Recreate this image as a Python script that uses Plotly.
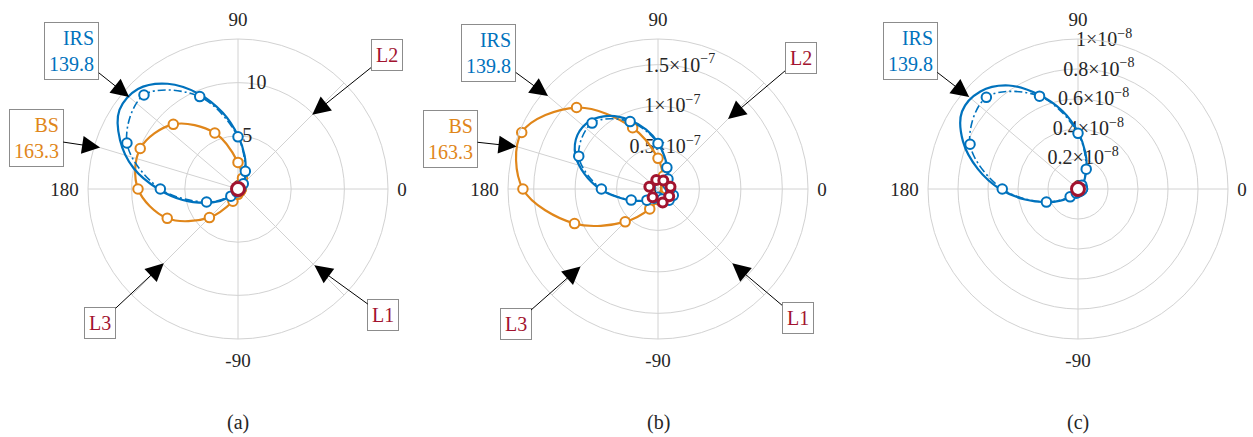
import math
import plotly.graph_objects as go

W, H = 1253, 437
FONT = "'Liberation Serif', 'DejaVu Serif', serif"
BLUE = "#0072BD"
ORANGE = "#E0861A"
RED = "#A2142F"
GRID = "#d2d2d2"
TXT = "#262626"

# Sampling angles (degrees)
ANG16 = [0, 22.5, 45, 67.5, 90, 112.5, 135, 157.5, 180, 202.5, 225, 247.5, 270, 292.5, 315, 337.5]
ANG32 = [0, 11.25, 22.5, 33.75, 45, 56.25, 67.5, 78.75, 90, 101.25, 112.5, 123.75, 135, 146.25,
         157.5, 168.75, 180, 191.25, 202.5, 213.75, 225, 236.25, 247.5, 258.75, 270, 281.25,
         292.5, 303.75, 315, 326.25, 337.5, 348.75]

# Steering directions
IRS_DIR = 139.8
BS_DIR = 163.3
USER_DIR = {"L1": -45, "L2": 45, "L3": -135}

# (a) beam patterns
a_irs_theory = [0.2, 0.22, 0.3, 0.45, 0.75, 1.2, 1.9, 3.2, 5.0, 7.3, 9.7, 11.9, 13.3, 13.4, 12.0, 10.0,
                7.5, 5.3, 3.4, 2.0, 1.0, 0.6, 0.35, 0.25, 0.2, 0.18, 0.15, 0.15, 0.15, 0.15, 0.18, 0.2]
a_irs_est = [0.2, 0.3, 0.7, 1.8, 4.9, 9.4, 12.5, 11.3, 7.3, 3.2, 0.95, 0.3, 0.15, 0.1, 0.1, 0.15]
a_bs = [0.3, 0.35, 0.6, 1.1, 2.5, 5.7, 8.6, 9.95, 9.4, 7.2, 3.8, 1.25, 0.5, 0.3, 0.3, 0.3]

# (b) beam patterns, in units of 1e-7
SCALE_B = 1e-7
b_irs_theory = [0.17, 0.15, 0.14, 0.15, 0.18, 0.22, 0.29, 0.4, 0.56, 0.73, 0.9, 1.06, 1.16, 1.17, 1.08, 0.9,
                0.7, 0.5, 0.36, 0.26, 0.2, 0.15, 0.12, 0.1, 0.1, 0.11, 0.13, 0.16, 0.19, 0.21, 0.21, 0.19]
b_irs_est = [0.15, 0.13, 0.17, 0.28, 0.55, 0.88, 1.125, 1.035, 0.683, 0.35, 0.19, 0.12, 0.1, 0.13, 0.19, 0.2]
b_bs = [0.1, 0.1, 0.12, 0.17, 0.37, 0.8, 1.39, 1.78, 1.63, 1.09, 0.56, 0.26, 0.13, 0.1, 0.1, 0.1]
b_users_theta = [165, 101, 58, 10, -33, -71, -123]
b_users_r = [0.108, 0.11, 0.121, 0.153, 0.161, 0.173, 0.119]

# (c) beam patterns, in units of 1e-8
SCALE_C = 1e-8
c_irs_theory = [0.03, 0.03, 0.03, 0.035, 0.05, 0.08, 0.15, 0.25, 0.38, 0.53, 0.68, 0.83, 0.92, 0.93, 0.83,
                0.68, 0.52, 0.36, 0.23, 0.14, 0.08, 0.05, 0.03, 0.02, 0.02, 0.02, 0.02, 0.02, 0.02, 0.02,
                0.025, 0.03]
c_irs_est = [0.03, 0.03, 0.036, 0.143, 0.371, 0.67, 0.864, 0.779, 0.505, 0.228, 0.074, 0.03, 0.02, 0.02,
             0.02, 0.025]

# radial axis limits and ticks
a_rmax, a_rticks = 14.1, [5, 10]
a_rlabels = ["5", "10"]
b_rmax, b_rticks = 1.81, [0.5, 1.0, 1.5]
b_rlabels = ["0.5×10<sup>−7</sup>", "1×10<sup>−7</sup>", "1.5×10<sup>−7</sup>"]
c_rmax, c_rticks = 1.0, [0.2, 0.4, 0.6, 0.8, 1.0]
c_rlabels = ["0.2×10<sup>−8</sup>", "0.4×10<sup>−8</sup>", "0.6×10<sup>−8</sup>",
             "0.8×10<sup>−8</sup>", "1×10<sup>−8</sup>"]
RLABEL_ANGLE = 80

# panel geometry (pixels)
R_PX = 150
CENTERS = [(238, 189), (658, 189), (1078, 189)]


def closed(seq):
    return list(seq) + [seq[0]]


def scaled(seq, s):
    return [v * s for v in seq]


def domain(cx, cy):
    return dict(x=[(cx - R_PX) / W, (cx + R_PX) / W],
                y=[(H - cy - R_PX) / H, (H - cy + R_PX) / H])


def tip(cx, cy, theta, frac):
    t = math.radians(theta)
    px = cx + frac * R_PX * math.cos(t)
    py = cy - frac * R_PX * math.sin(t)
    return px, py


fig = go.Figure()


def add_rays(sub, angles, rmax):
    # thin radial guide lines towards the users and the steering directions
    for a in angles:
        fig.add_trace(go.Scatterpolar(
            r=[0, rmax], theta=[a, a], mode="lines", subplot=sub,
            line=dict(color=GRID, width=1), showlegend=False, hoverinfo="skip"))


def add_rlabels(sub, ticks, labels, s):
    fig.add_trace(go.Scatterpolar(
        r=[0] + [v * s for v in ticks], theta=[RLABEL_ANGLE] * (len(ticks) + 1),
        mode="text", text=["0"] + labels, textposition="middle center",
        textfont=dict(family=FONT, size=20, color=TXT), subplot=sub,
        showlegend=False, hoverinfo="skip"))


MARK = dict(symbol="circle", size=9.5, color="white")


def add_solid(sub, r, theta, color, s, markers=False):
    fig.add_trace(go.Scatterpolar(
        r=closed(scaled(r, s)), theta=closed(theta), subplot=sub,
        mode="lines+markers" if markers else "lines",
        line=dict(color=color, width=2.2, shape="spline", smoothing=1.0),
        marker=dict(MARK, line=dict(color=color, width=2)),
        showlegend=False))


def add_dashdot(sub, r, theta, color, s):
    fig.add_trace(go.Scatterpolar(
        r=closed(scaled(r, s)), theta=closed(theta), subplot=sub,
        mode="lines+markers",
        line=dict(color=color, width=1.6, shape="spline", smoothing=1.0, dash="8px,3px,2px,3px"),
        marker=dict(MARK, line=dict(color=color, width=2)),
        showlegend=False))


user_angles = list(USER_DIR.values())
CENTER_MARK = dict(size=13, color="white", line=dict(color=RED, width=3))

# (a)
add_rays("polar", user_angles + [IRS_DIR, BS_DIR], a_rmax)
add_rlabels("polar", a_rticks, a_rlabels, 1)
add_solid("polar", a_bs, ANG16, ORANGE, 1, markers=True)
add_solid("polar", a_irs_theory, ANG32, BLUE, 1)
add_dashdot("polar", a_irs_est, ANG16, BLUE, 1)
fig.add_trace(go.Scatterpolar(r=[0], theta=[0], mode="markers", subplot="polar",
                              marker=CENTER_MARK, showlegend=False))

# (b)
add_rays("polar2", user_angles + [IRS_DIR, BS_DIR], b_rmax * SCALE_B)
add_rlabels("polar2", b_rticks, b_rlabels, SCALE_B)
add_solid("polar2", b_bs, ANG16, ORANGE, SCALE_B, markers=True)
add_solid("polar2", b_irs_theory, ANG32, BLUE, SCALE_B)
add_dashdot("polar2", b_irs_est, ANG16, BLUE, SCALE_B)
fig.add_trace(go.Scatterpolar(r=scaled(b_users_r, SCALE_B), theta=b_users_theta, mode="markers",
                              subplot="polar2",
                              marker=dict(size=9, color="white", line=dict(color=RED, width=3)),
                              showlegend=False))

# (c)
add_rays("polar3", [IRS_DIR], c_rmax * SCALE_C)
add_rlabels("polar3", c_rticks, c_rlabels, SCALE_C)
add_solid("polar3", c_irs_theory, ANG32, BLUE, SCALE_C)
add_dashdot("polar3", c_irs_est, ANG16, BLUE, SCALE_C)
fig.add_trace(go.Scatterpolar(r=[0], theta=[0], mode="markers", subplot="polar3",
                              marker=CENTER_MARK, showlegend=False))


def polar_layout(center, rmax, rticks):
    return dict(
        domain=domain(*center),
        bgcolor="white",
        radialaxis=dict(range=[0, rmax], tickvals=rticks, showticklabels=False, showline=False,
                        ticks="", gridcolor=GRID, gridwidth=1),
        angularaxis=dict(rotation=0, direction="counterclockwise",
                         tickmode="array", tickvals=[0, 90, 180, 270],
                         ticktext=["0", "90", "180", "-90"],
                         showline=True, linecolor=GRID, linewidth=1,
                         gridcolor=GRID, gridwidth=1,
                         ticks="outside", ticklen=5, tickcolor="rgba(0,0,0,0)",
                         tickfont=dict(family=FONT, size=19, color=TXT)),
    )


fig.update_layout(
    width=W, height=H, margin=dict(l=0, r=0, t=0, b=0),
    paper_bgcolor="white", showlegend=False,
    font=dict(family=FONT, color=TXT),
    polar=polar_layout(CENTERS[0], a_rmax, a_rticks),
    polar2=polar_layout(CENTERS[1], b_rmax * SCALE_B, scaled(b_rticks, SCALE_B)),
    polar3=polar_layout(CENTERS[2], c_rmax * SCALE_C, scaled(c_rticks, SCALE_C)),
)

# callouts: (panel, text, colour, direction, radial fraction of the tip, box centre in px)
callouts = [
    (0, f"IRS<br>{IRS_DIR}", BLUE, IRS_DIR, 0.95, (71.8, 51.3)),
    (0, f"BS<br>{BS_DIR}", ORANGE, BS_DIR, 0.96, (36.2, 138.0)),
    (0, "L2", RED, USER_DIR["L2"], 0.70, (386.5, 55.2)),
    (0, "L1", RED, USER_DIR["L1"], 0.72, (383.3, 315.3)),
    (0, "L3", RED, USER_DIR["L3"], 0.70, (100.2, 322.7)),
    (1, f"IRS<br>{IRS_DIR}", BLUE, IRS_DIR, 0.96, (488.8, 52.7)),
    (1, f"BS<br>{BS_DIR}", ORANGE, BS_DIR, 0.985, (450.5, 139.3)),
    (1, "L2", RED, USER_DIR["L2"], 0.66, (800.5, 57.8)),
    (1, "L1", RED, USER_DIR["L1"], 0.70, (797.5, 318.3)),
    (1, "L3", RED, USER_DIR["L3"], 0.73, (515.5, 323.7)),
    (2, f"IRS<br>{IRS_DIR}", BLUE, IRS_DIR, 0.95, (910.3, 51.5)),
]

annotations = []
for panel, text, color, theta, frac, box in callouts:
    cx, cy = CENTERS[panel]
    px, py = tip(cx, cy, theta, frac)
    annotations.append(dict(
        x=px / W, y=1 - py / H, xref="paper", yref="paper",
        ax=box[0] - px, ay=box[1] - py, axref="pixel", ayref="pixel",
        text=text, align="right", font=dict(family=FONT, size=20, color=color),
        showarrow=True, arrowhead=2, arrowsize=3.6, arrowwidth=1, arrowcolor="black",
        bordercolor="#8c8c8c", borderwidth=1, borderpad=4, bgcolor="white", standoff=0,
    ))

for i, lab in enumerate(["(a)", "(b)", "(c)"]):
    annotations.append(dict(x=CENTERS[i][0] / W, y=1 - 422 / H, xref="paper", yref="paper",
                            text=lab, showarrow=False, xanchor="center", yanchor="middle",
                            font=dict(family=FONT, size=20, color=TXT)))

fig.update_layout(annotations=annotations)
fig.write_html("out.html")
